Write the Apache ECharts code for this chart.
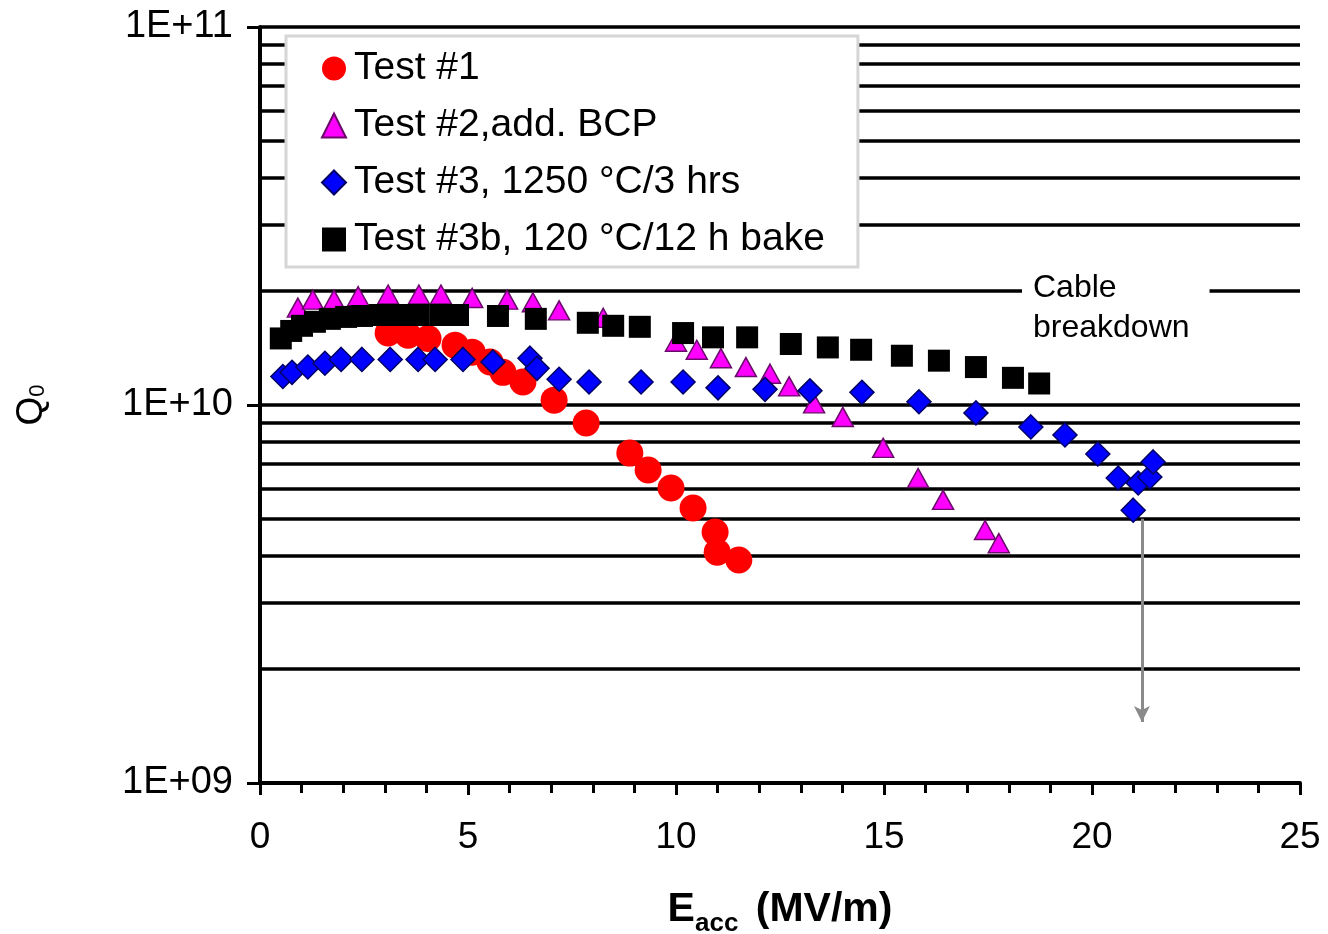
<!DOCTYPE html>
<html>
<head>
<meta charset="utf-8">
<script src="https://cdn.jsdelivr.net/npm/echarts@6/dist/echarts.min.js"></script>
<style>
  html, body { margin: 0; padding: 0; background: #fff; }
  #chart { width: 1328px; height: 934px; }
</style>
</head>
<body>
<div id="chart"></div>
<script>
// Test #1
const test1X = [3.08, 3.56, 4.04, 4.69, 5.10, 5.53, 5.84, 6.32, 7.07, 7.84, 8.89, 9.33, 9.88, 10.41, 10.94, 10.99, 11.51]
const test1Q = [1.55e10, 1.53e10, 1.50e10, 1.44e10, 1.38e10, 1.30e10, 1.22e10, 1.15e10, 1.03e10, 8.96e9, 7.46e9, 6.73e9, 6.03e9, 5.34e9, 4.61e9, 4.08e9, 3.89e9]

// Test #2, add. BCP
const test2X = [0.91, 1.27, 1.78, 2.36, 3.08, 3.82, 4.35, 5.10, 5.94, 6.56, 7.19, 8.25, 10.0, 10.5, 11.08, 11.68, 12.26, 12.72, 13.32, 14.01, 14.98, 15.82, 16.42, 17.43, 17.76]
const test2Q = [1.81e10, 1.90e10, 1.90e10, 1.94e10, 1.96e10, 1.96e10, 1.96e10, 1.92e10, 1.90e10, 1.87e10, 1.78e10, 1.70e10, 1.47e10, 1.40e10, 1.33e10, 1.26e10, 1.21e10, 1.12e10, 1.01e10, 9.30e9, 7.70e9, 6.41e9, 5.61e9, 4.67e9, 4.31e9]

// Test #3, 1250 °C/3 hrs
const test3X = [0.55, 0.77, 1.15, 1.56, 1.95, 2.45, 3.13, 3.80, 4.21, 4.88, 5.60, 6.49, 6.66, 7.19, 7.91, 9.16, 10.17, 11.01, 12.14, 13.22, 14.47, 15.84, 17.21, 18.53, 19.35, 20.14, 20.63, 21.11, 20.99, 21.39, 21.47]
const test3Q = [1.19e10, 1.22e10, 1.26e10, 1.29e10, 1.32e10, 1.32e10, 1.32e10, 1.32e10, 1.32e10, 1.32e10, 1.30e10, 1.33e10, 1.25e10, 1.17e10, 1.15e10, 1.15e10, 1.15e10, 1.11e10, 1.10e10, 1.09e10, 1.08e10, 1.02e10, 9.53e9, 8.75e9, 8.33e9, 7.42e9, 6.41e9, 6.22e9, 5.27e9, 6.45e9, 7.07e9]

// Test #3b, 120 °C/12 h bake
const test3bX = [0.50, 0.75, 1.01, 1.32, 1.68, 2.07, 2.45, 2.88, 3.32, 3.80, 4.33, 4.76, 5.72, 6.63, 7.88, 8.49, 9.13, 10.17, 10.89, 11.71, 12.76, 13.65, 14.45, 15.43, 16.32, 17.21, 18.10, 18.73]
const test3bQ = [1.50e10, 1.57e10, 1.62e10, 1.66e10, 1.69e10, 1.71e10, 1.72e10, 1.73e10, 1.73e10, 1.73e10, 1.73e10, 1.73e10, 1.72e10, 1.69e10, 1.65e10, 1.62e10, 1.61e10, 1.55e10, 1.51e10, 1.51e10, 1.45e10, 1.42e10, 1.40e10, 1.35e10, 1.31e10, 1.26e10, 1.18e10, 1.14e10]

const seriesNames = ['Test #1', 'Test #2,add. BCP', 'Test #3, 1250 °C/3 hrs', 'Test #3b, 120 °C/12 h bake']

// 水平网格线位置 (log 轴的 2..9 及十倍程)
const gridValues = [2e9, 3e9, 4e9, 5e9, 6e9, 7e9, 8e9, 9e9, 1e10, 2e10, 3e10, 4e10, 5e10, 6e10, 7e10, 8e10, 9e10, 1e11]
const yTickLabels = { 1e9: '1E+09', 1e10: '1E+10', 1e11: '1E+11' }

// 电缆击穿箭头
const arrowX = 21.2
const arrowFromQ = 5.0e9
const arrowToQ = 1.45e9

const FONT = '"Liberation Sans", Arial, sans-serif'

const zip = (xs, ys) => xs.map((x, i) => [x, ys[i]])

const chart = echarts.init(document.getElementById('chart'))

const option = {
  backgroundColor: '#fff',
  animation: false,
  grid: { left: 260, right: 28, top: 27, bottom: 151, containLabel: false, outerBoundsMode: 'none' },
  legend: {
    orient: 'vertical',
    left: 286,
    top: 36,
    backgroundColor: '#fff',
    borderColor: '#d6d6d6',
    borderWidth: 3,
    padding: [12, 33, 7, 35],
    itemGap: 16,
    itemWidth: 24,
    itemHeight: 24,
    textStyle: { fontFamily: FONT, fontSize: 39, color: '#000', lineHeight: 41, padding: [0, 0, 0, 3] },
    data: seriesNames
  },
  xAxis: {
    type: 'value',
    min: 0,
    max: 25,
    interval: 5,
    axisLine: { lineStyle: { color: '#000', width: 4 } },
    axisTick: { show: true, length: 12, lineStyle: { color: '#000', width: 3 } },
    minorTick: { show: true, splitNumber: 5, length: 10, lineStyle: { color: '#000', width: 3 } },
    splitLine: { show: false },
    axisLabel: { fontFamily: FONT, fontSize: 37, color: '#000', margin: 36 },
    name: '{e|E}{s|acc}{e| (MV/m)}',
    nameLocation: 'middle',
    nameGap: 106,
    nameTextStyle: {
      rich: {
        e: { fontFamily: FONT, fontSize: 41, fontWeight: 'bold', color: '#000', verticalAlign: 'bottom' },
        s: { fontFamily: FONT, fontSize: 26, fontWeight: 'bold', color: '#000', verticalAlign: 'bottom', padding: [0, 6, -7, 0] }
      }
    }
  },
  yAxis: {
    type: 'log',
    logBase: 10,
    min: 1e9,
    max: 1e11,
    axisLine: { show: true, lineStyle: { color: '#000', width: 4 } },
    axisTick: { show: true, length: 13, lineStyle: { color: '#000', width: 3 } },
    splitLine: { show: false },
    axisLabel: {
      fontFamily: FONT,
      fontSize: 38,
      color: '#000',
      margin: 27,
      formatter: (v) => yTickLabels[v] || ''
    },
    name: '{q|Q}{s|0}',
    nameLocation: 'middle',
    nameRotate: 90,
    nameGap: 210,
    nameTextStyle: {
      rich: {
        q: { fontFamily: FONT, fontSize: 37, color: '#000' },
        s: { fontFamily: FONT, fontSize: 22, color: '#000', padding: [0, 0, -12, 0] }
      }
    }
  },
  graphic: [
    {
      type: 'text',
      z: 100,
      left: 1022,
      top: 268,
      style: {
        text: 'Cable\nbreakdown',
        font: '32px "Liberation Sans", Arial, sans-serif',
        fill: '#000',
        lineHeight: 40,
        backgroundColor: '#fff',
        padding: [0, 20, 0, 11]
      }
    }
  ],
  series: [
    {
      name: seriesNames[0],
      type: 'scatter',
      symbol: 'circle',
      symbolSize: 27,
      itemStyle: { color: '#ff0000', opacity: 1 },
      data: zip(test1X, test1Q),
      z: 3,
      markLine: {
        silent: true,
        z: 1,
        symbol: ['none', 'none'],
        label: { show: false },
        lineStyle: { color: '#000', width: 3.5, type: 'solid' },
        emphasis: { disabled: true },
        data: gridValues.map(v => ({ yAxis: v }))
      }
    },
    {
      name: seriesNames[1],
      type: 'scatter',
      symbol: 'triangle',
      symbolSize: [21, 19],
      itemStyle: { color: '#ff00ff', borderColor: '#6a0a6a', borderWidth: 1.5, opacity: 1 },
      data: zip(test2X, test2Q),
      z: 3
    },
    {
      name: seriesNames[2],
      type: 'scatter',
      symbol: 'diamond',
      symbolSize: 24,
      itemStyle: { color: '#0000ff', borderColor: '#000066', borderWidth: 1.5, opacity: 1 },
      data: zip(test3X, test3Q),
      z: 5,
      markLine: {
        silent: true,
        z: 2,
        symbol: ['none', 'arrow'],
        symbolSize: [12, 16],
        label: { show: false },
        lineStyle: { color: '#8a8a8a', width: 3, type: 'solid' },
        emphasis: { disabled: true },
        data: [[{ coord: [arrowX, arrowFromQ] }, { coord: [arrowX, arrowToQ] }]]
      }
    },
    {
      name: seriesNames[3],
      type: 'scatter',
      symbol: 'rect',
      symbolSize: 22,
      itemStyle: { color: '#000', opacity: 1 },
      data: zip(test3bX, test3bQ),
      z: 4
    }
  ]
}

chart.setOption(option)
</script>
</body>
</html>
